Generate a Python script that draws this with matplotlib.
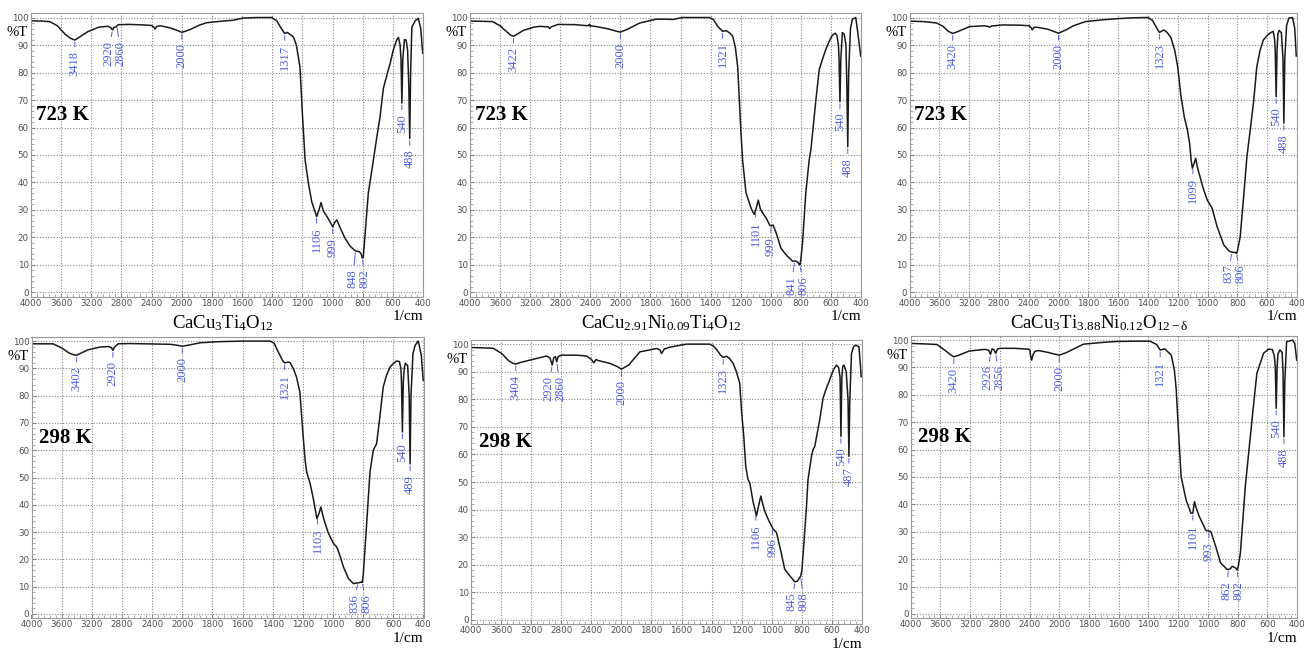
import numpy as np
import matplotlib
matplotlib.use('Agg')
import matplotlib.pyplot as plt

plt.rcParams['mathtext.fontset'] = 'custom'
plt.rcParams['mathtext.rm'] = 'Liberation Serif'
plt.rcParams['mathtext.it'] = 'Liberation Serif:italic'

SERIF = 'Liberation Serif'
BLUE = '#4f5fe0'

# ---- spectra: wavenumber (1/cm) and transmittance (%T) ----

# 723 K, CaCu3Ti4O12
wn_a = [4000, 3850, 3750, 3650, 3550, 3480, 3418, 3350, 3250, 3100,
        2980, 2940, 2920, 2900, 2870, 2860, 2840, 2700, 2500, 2400,
        2370, 2355, 2330, 2280, 2150, 2050, 2000, 1950, 1880, 1835,
        1750, 1660, 1593, 1500, 1440, 1403, 1370, 1340, 1317, 1300,
        1280, 1260, 1240, 1216, 1200, 1182, 1160, 1138, 1120, 1105,
        1090, 1076, 1060, 1043, 1020, 999, 985, 972, 945, 917,
        884, 851, 822, 810, 802, 796, 780, 763, 729, 705,
        685, 663, 640, 618, 597, 575, 563, 552, 546, 540,
        534, 523, 512, 502, 494, 488, 482, 474, 452, 431,
        415, 402]
t_a = [98.8, 98.7, 98.5, 97.0, 94.0, 92.5, 91.8, 93.0, 94.8, 96.5,
       96.8, 96.3, 95.5, 96.4, 96.6, 97.0, 97.4, 97.5, 97.3, 97.1,
       96.5, 95.8, 96.8, 97.0, 96.2, 95.2, 94.6, 95.5, 97.3, 98.1,
       98.6, 99.0, 99.8, 100.0, 100.0, 100.0, 98.8, 96.0, 94.2, 94.6,
       93.8, 93.0, 90.0, 82.0, 65.0, 48.2, 39.7, 33.0, 30.0, 27.6,
       30.0, 32.7, 29.5, 28.2, 26.0, 23.9, 25.5, 26.4, 23.0, 19.7,
       16.9, 15.2, 14.8, 14.0, 12.5, 13.0, 24.0, 36.0, 48.2, 57.0,
       63.9, 74.2, 79.0, 83.3, 88.2, 91.8, 92.8, 90.0, 85.0, 68.9,
       85.0, 92.0, 91.8, 88.0, 75.0, 56.0, 80.0, 96.5, 98.8, 99.7,
       96.0, 87.0]
pk_a = [3418, 2920, 2860, 2000, 1317, 1106, 999, 848, 802, 540, 488]

# 723 K, CaCu2.91Ni0.09Ti4O12
wn_b = [4000, 3800, 3700, 3600, 3520, 3460, 3422, 3380, 3293, 3150,
        3072, 2960, 2939, 2920, 2828, 2600, 2430, 2410, 2400, 2390,
        2300, 2150, 2050, 2000, 1950, 1872, 1762, 1700, 1651, 1585,
        1500, 1408, 1380, 1353, 1321, 1297, 1275, 1253, 1235, 1220,
        1198, 1187, 1165, 1130, 1110, 1095, 1083, 1070, 1055, 1030,
        1006, 999, 984, 960, 933, 910, 889, 855, 833, 820,
        811, 806, 800, 789, 767, 745, 733, 700, 678, 655,
        634, 610, 590, 572, 560, 550, 546, 540, 534, 524,
        512, 500, 494, 488, 482, 470, 457, 435, 420, 402]
t_b = [98.7, 98.6, 98.5, 97.0, 95.0, 93.6, 93.2, 93.8, 95.3, 96.5,
       96.8, 96.6, 96.0, 96.6, 97.5, 97.4, 97.0, 97.6, 96.8, 97.0,
       96.6, 95.8, 95.0, 94.7, 95.8, 98.0, 99.4, 99.4, 99.3, 100.0,
       100.0, 100.0, 99.2, 96.8, 95.0, 95.2, 94.5, 93.2, 89.0, 82.0,
       58.0, 48.0, 36.3, 30.5, 28.4, 31.0, 33.6, 30.5, 29.0, 27.0,
       24.4, 24.2, 24.5, 21.0, 16.2, 14.5, 13.2, 11.4, 11.4, 11.0,
       10.2, 10.0, 12.0, 18.0, 36.3, 48.0, 52.0, 70.0, 81.0, 85.0,
       88.4, 91.5, 93.6, 94.3, 93.5, 90.0, 85.0, 69.4, 85.0, 94.5,
       94.0, 90.0, 75.0, 53.0, 80.0, 96.0, 99.4, 100.0, 94.0, 86.0]
pk_b = [3422, 2000, 1321, 1101, 999, 841, 806, 540, 488]

# 723 K, CaCu3Ti3.88Ni0.12O12-d
wn_c = [4000, 3800, 3636, 3550, 3480, 3420, 3360, 3193, 3000, 2950,
        2927, 2900, 2751, 2500, 2396, 2370, 2352, 2330, 2300, 2150,
        2050, 2000, 1950, 1900, 1821, 1700, 1600, 1500, 1401, 1370,
        1334, 1323, 1300, 1290, 1270, 1246, 1220, 1201, 1180, 1157,
        1135, 1120, 1110, 1102, 1090, 1080, 1070, 1057, 1030, 1002,
        969, 936, 891, 860, 847, 830, 815, 806, 800, 781,
        758, 736, 714, 690, 670, 648, 626, 600, 582, 560,
        550, 546, 540, 534, 528, 520, 505, 494, 488, 482,
        470, 455, 430, 415, 405]
t_c = [98.7, 98.5, 98.0, 96.8, 95.0, 94.2, 94.8, 96.7, 97.0, 96.8,
       96.5, 96.9, 97.3, 97.2, 97.0, 96.4, 95.5, 96.4, 96.5, 95.8,
       94.8, 94.3, 95.5, 97.0, 98.5, 99.2, 99.6, 99.9, 100.0, 99.0,
       95.5, 94.6, 95.3, 95.4, 94.5, 92.7, 88.0, 82.3, 72.0, 64.0,
       59.0, 54.0, 48.0, 45.2, 47.0, 48.8, 46.0, 43.3, 38.0, 33.6,
       30.6, 23.9, 17.3, 15.3, 14.8, 14.6, 14.6, 14.2, 15.0, 20.3,
       34.8, 49.4, 59.0, 70.0, 82.0, 88.0, 91.8, 93.5, 94.3, 95.0,
       92.0, 88.0, 71.2, 88.0, 94.0, 95.3, 94.5, 85.0, 61.6, 85.0,
       97.0, 99.8, 100.0, 96.0, 86.0]
pk_c = [3420, 2000, 1323, 1099, 837, 806, 540, 488]

# 298 K, CaCu3Ti4O12
wn_d = [4000, 3800, 3714, 3600, 3500, 3440, 3402, 3350, 3250, 3094,
        2980, 2940, 2920, 2900, 2851, 2700, 2500, 2300, 2150, 2050,
        2000, 1950, 1880, 1750, 1600, 1500, 1417, 1390, 1374, 1334,
        1321, 1300, 1286, 1264, 1242, 1220, 1198, 1185, 1175, 1152,
        1130, 1107, 1092, 1081, 1065, 1052, 1030, 997, 975, 955,
        931, 898, 865, 832, 810, 806, 799, 777, 755, 733,
        711, 690, 667, 645, 622, 600, 578, 560, 550, 546,
        540, 534, 528, 520, 505, 495, 489, 483, 470, 455,
        435, 415, 402]
t_d = [99.0, 99.0, 99.0, 97.5, 95.6, 95.0, 94.8, 95.5, 96.8, 97.8,
       98.0, 97.6, 96.6, 97.8, 99.0, 99.1, 99.0, 98.9, 98.8, 98.4,
       98.1, 98.6, 99.4, 99.8, 100.0, 100.0, 100.0, 99.2, 97.2, 92.8,
       92.0, 92.3, 92.2, 90.0, 86.8, 81.3, 64.8, 56.3, 52.0, 47.8,
       42.0, 34.9, 37.0, 39.2, 35.5, 33.1, 29.5, 25.8, 24.5, 21.5,
       17.2, 13.0, 11.1, 11.4, 11.7, 11.5, 14.8, 33.1, 52.0, 60.0,
       62.4, 72.0, 83.2, 87.5, 90.5, 91.8, 92.7, 92.5, 90.0, 85.0,
       66.7, 85.0, 90.0, 91.9, 91.0, 80.0, 55.0, 80.0, 95.4, 98.5,
       100.0, 95.0, 85.6]
pk_d = [3402, 2920, 2000, 1321, 1103, 836, 806, 540, 489]

# 298 K, CaCu2.91Ni0.09Ti4O12
wn_e = [4000, 3800, 3704, 3592, 3500, 3440, 3404, 3350, 3172, 2994,
        2950, 2920, 2900, 2877, 2860, 2840, 2795, 2600, 2463, 2400,
        2366, 2340, 2300, 2150, 2050, 2000, 1950, 1877, 1766, 1745,
        1733, 1715, 1678, 1567, 1500, 1412, 1390, 1367, 1340, 1323,
        1301, 1280, 1257, 1235, 1213, 1200, 1186, 1173, 1158, 1146,
        1125, 1102, 1085, 1073, 1060, 1047, 1020, 991, 969, 940,
        914, 880, 847, 830, 814, 808, 800, 790, 769, 759,
        736, 726, 714, 700, 681, 659, 637, 615, 592, 570,
        555, 546, 540, 534, 528, 520, 505, 493, 487, 481,
        470, 455, 440, 420, 405]
t_e = [98.8, 98.6, 98.5, 96.6, 94.0, 93.0, 92.8, 93.3, 94.5, 95.7,
       95.0, 92.4, 95.0, 95.5, 93.6, 95.5, 96.0, 96.0, 95.7, 94.5,
       93.2, 94.4, 94.0, 93.0, 91.8, 90.9, 92.5, 97.2, 98.4, 98.0,
       96.6, 98.2, 98.9, 100.0, 100.0, 100.0, 99.4, 98.1, 96.0, 95.2,
       95.6, 94.8, 93.0, 90.0, 85.8, 75.0, 66.5, 55.7, 50.9, 49.7,
       43.0, 37.7, 42.0, 44.9, 42.0, 39.5, 36.0, 32.9, 31.7, 25.0,
       18.4, 16.0, 13.8, 14.0, 15.4, 15.8, 17.8, 25.0, 41.3, 50.9,
       59.3, 61.7, 62.9, 67.0, 72.6, 80.4, 84.0, 87.0, 90.5, 92.4,
       91.5, 88.0, 66.5, 88.0, 92.0, 92.4, 90.0, 80.0, 59.3, 80.0,
       96.6, 99.2, 99.6, 99.0, 88.2]
pk_e = [3404, 2920, 2860, 2000, 1323, 1106, 996, 845, 808, 540, 487]

# 298 K, CaCu3Ti3.88Ni0.12O12-d
wn_f = [4000, 3800, 3647, 3550, 3470, 3420, 3360, 3213, 3050, 2991,
        2950, 2926, 2905, 2880, 2856, 2830, 2792, 2600, 2416, 2395,
        2385, 2372, 2355, 2328, 2280, 2150, 2050, 2000, 1950, 1838,
        1700, 1610, 1500, 1389, 1345, 1321, 1290, 1246, 1225, 1213,
        1202, 1180, 1147, 1114, 1101, 1090, 1080, 1058, 1013, 993,
        980, 947, 914, 869, 850, 836, 814, 802, 795, 781,
        748, 703, 670, 625, 592, 565, 552, 546, 540, 534,
        528, 515, 500, 494, 488, 482, 470, 430, 415, 402]
t_f = [98.8, 98.6, 98.4, 96.5, 94.8, 93.9, 94.4, 96.0, 96.5, 96.6,
       96.3, 94.8, 96.8, 96.5, 95.2, 96.8, 97.0, 97.0, 96.7, 96.3,
       94.0, 92.7, 94.5, 95.9, 96.2, 95.5, 94.8, 94.5, 95.5, 98.5,
       99.2, 99.5, 99.6, 99.6, 98.4, 96.4, 96.8, 94.5, 89.0, 82.0,
       71.0, 50.2, 41.7, 36.8, 36.8, 41.0, 39.0, 35.6, 30.5, 30.3,
       30.1, 24.6, 18.6, 16.2, 16.4, 17.4, 16.8, 16.0, 17.5, 22.2,
       46.5, 70.8, 87.9, 95.2, 96.7, 96.5, 94.0, 90.0, 75.1, 90.0,
       95.0, 96.4, 95.5, 88.0, 64.7, 85.0, 99.4, 100.0, 98.8, 92.7]
pk_f = [3420, 2926, 2856, 2000, 1321, 1101, 993, 862, 802, 540, 488]

captions = [r'$\mathrm{CaCu_3Ti_4O_{12}}$',
            r'$\mathrm{CaCu_{2.91}Ni_{0.09}Ti_4O_{12}}$',
            r'$\mathrm{CaCu_3Ti_{3.88}Ni_{0.12}O_{12-δ}}$']
temps = ['723 K', '723 K', '723 K', '298 K', '298 K', '298 K']

major_x = [4000, 3600, 3200, 2800, 2400, 2000, 1800, 1600, 1400,
           1200, 1000, 800, 600, 400]


# the instrument plots 4000-2000 at half the scale of 2000-400
def fwd(x):
    x = np.asarray(x, dtype=float)
    return np.where(x > 2000, 2000 + (x - 2000) / 2.0, x)


def inv(y):
    y = np.asarray(y, dtype=float)
    return np.where(y > 2000, 2000 + (y - 2000) * 2.0, y)


W, H = 1304, 651
fig = plt.figure(figsize=(W / 100, H / 100), dpi=100)

# axes boxes in pixels: left, top, right, bottom
boxes = [(31, 13.4, 423, 296.6), (470, 13.4, 861, 296.6), (909.5, 13.4, 1297, 296.6),
         (31.5, 337, 423.5, 618), (471, 340, 862, 624), (910.7, 336, 1297, 618)]

spectra = [(wn_a, t_a, pk_a), (wn_b, t_b, pk_b), (wn_c, t_c, pk_c),
           (wn_d, t_d, pk_d), (wn_e, t_e, pk_e), (wn_f, t_f, pk_f)]

for i, ((wn, t, peaks), box) in enumerate(zip(spectra, boxes)):
    l, tp, r, b = box
    ax = fig.add_axes([l / W, 1 - b / H, (r - l) / W, (b - tp) / H])
    ax.set_xscale('function', functions=(fwd, inv))
    ax.plot(wn, t, color='#1a1a1a', lw=1.1)
    ax.set_xlim(4000, 400)
    ax.set_ylim(-1.5, 101.5)

    ax.set_xticks(major_x)
    ax.set_xticklabels([str(v) for v in major_x])
    ax.set_xticks(np.concatenate([np.arange(2080, 4000, 80), np.arange(440, 2000, 40)]), minor=True)
    ax.set_yticks(range(0, 101, 10))
    ax.set_yticks(np.arange(0, 101, 2), minor=True)
    ax.tick_params(which='major', labelsize=6.3, labelcolor='#505050', length=3,
                   width=0.6, color='#777777', pad=1.5, direction='in')
    ax.tick_params(which='minor', length=2, width=0.5, color='#888888', direction='in')
    ax.grid(True, which='major', linestyle=(0, (1, 1.5)), color='#8a8a8a', lw=0.8)
    for s in ax.spines.values():
        s.set_color('#9a9a9a')
        s.set_linewidth(0.8)

    ax.text(-0.008, 94.5, '%T', transform=ax.get_yaxis_transform(), ha='right',
            va='center', fontsize=10.5, family=SERIF)
    ax.text(0.012 if i < 3 else 0.02, 64.5, temps[i], transform=ax.get_yaxis_transform(),
            ha='left', va='center', fontsize=15, fontweight='bold', family=SERIF)
    ax.text(1.0, -0.072, '1/cm', transform=ax.transAxes, ha='right', va='center',
            fontsize=11, family=SERIF)
    if i < 3:
        ax.text(0.49, -0.093, captions[i], transform=ax.transAxes, ha='center',
                va='center', fontsize=13.5)

    # peak labels; neighbours at a similar depth are pushed apart and aligned
    tv = np.interp(peaks, wn[::-1], t[::-1])
    disp = ax.transData.transform(np.column_stack([peaks, tv]))
    xs = disp[:, 0].copy()
    ys = disp[:, 1].copy()
    j = 0
    while j < len(peaks) - 1:
        gap = xs[j + 1] - xs[j]
        if gap < 12 and abs(tv[j] - tv[j + 1]) < 5:
            shift = (12 - gap) / 2
            xs[j] -= shift
            xs[j + 1] += shift
            low = min(ys[j], ys[j + 1])
            ys[j] = ys[j + 1] = low
            j += 2
        else:
            j += 1
    for k, p in enumerate(peaks):
        ax.annotate(str(p), xy=(p, tv[k]), xytext=(xs[k], ys[k] - 11),
                    textcoords='figure pixels', rotation=90, ha='center', va='top',
                    color=BLUE, fontsize=9, family=SERIF,
                    arrowprops=dict(arrowstyle='-', color=BLUE, lw=0.7,
                                    shrinkA=1, shrinkB=1.5))

fig.savefig('out.png', dpi=100)
